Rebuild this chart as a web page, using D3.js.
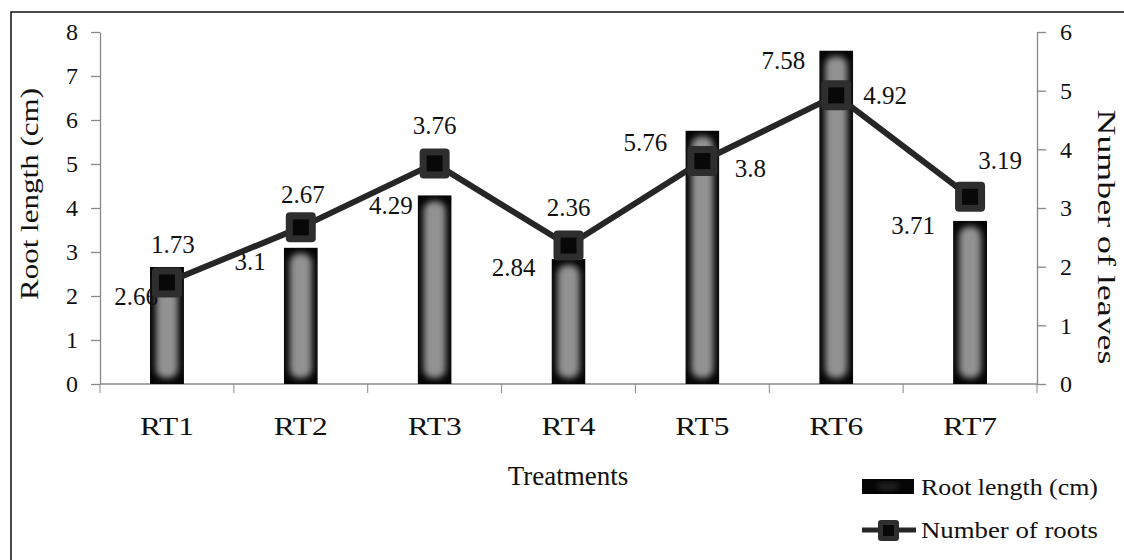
<!DOCTYPE html>
<html>
<head>
<meta charset="utf-8">
<script src="https://cdn.jsdelivr.net/npm/d3@7"></script>
<style>
  html, body { margin: 0; padding: 0; background: #fff; }
  svg { display: block; }
  text { font-family: "Liberation Serif", "Times New Roman", serif; fill: #111; }
</style>
</head>
<body>
<svg id="chart" width="1124" height="560"></svg>
<script>
// Treatments on the x axis
const categories = ["RT1", "RT2", "RT3", "RT4", "RT5", "RT6", "RT7"];
// Root length (cm), left axis, drawn as bars
const rootLength = [2.66, 3.1, 4.29, 2.84, 5.76, 7.58, 3.71];
// Number of leaves, right axis, drawn as the line
const leaves = [1.73, 2.67, 3.76, 2.36, 3.8, 4.92, 3.19];
// Axis tick values
const leftTicks = [0, 1, 2, 3, 4, 5, 6, 7, 8];
const rightTicks = [0, 1, 2, 3, 4, 5, 6];

// Hand-placed label nudges (px) so labels clear the marks
const barLabelNudge = [[8, 29], [-18, 14], [-5, 10], [-16, 8], [-18, 12], [-14, 10], [-18, 4]];
const lineLabelNudge = [[6, -38], [2, -33], [0, -38], [0, -38], [48, 7], [49, 0], [30, -37]];

const svg = d3.select("#chart");
const plot = { left: 100, right: 1037, top: 32, bottom: 384 };

const x = d3.scaleBand().domain(categories).range([plot.left, plot.right]).padding(0);
const yL = d3.scaleLinear().domain([0, 8]).range([plot.bottom, plot.top]);
const yR = d3.scaleLinear().domain([0, 6]).range([plot.bottom, plot.top]);
const barW = 34;

// outer frame
svg.append("rect").attr("x", 11).attr("y", 12).attr("width", 1140).attr("height", 580)
  .attr("fill", "none").attr("stroke", "#111").attr("stroke-width", 1.5);

const defs = svg.append("defs");
defs.append("filter").attr("id", "soft").attr("x", "-50%").attr("y", "-50%").attr("width", "200%").attr("height", "200%")
  .append("feGaussianBlur").attr("stdDeviation", 3.2);

// left axis
const axL = svg.append("g").attr("transform", `translate(${plot.left},0)`)
  .call(d3.axisLeft(yL).tickValues(leftTicks).tickFormat(d3.format("d")).tickSize(9).tickSizeOuter(0).tickPadding(13));
// right axis
const axR = svg.append("g").attr("transform", `translate(${plot.right},0)`)
  .call(d3.axisRight(yR).tickValues(rightTicks).tickFormat(d3.format("d")).tickSize(9).tickSizeOuter(0).tickPadding(14));
// bottom axis: ticks on category boundaries
const axB = svg.append("g").attr("transform", `translate(0,${plot.bottom})`)
  .call(d3.axisBottom(x).tickSize(0).tickPadding(33));
svg.append("g").selectAll("line")
  .data(d3.range(categories.length + 1))
  .join("line")
  .attr("x1", i => plot.left + i * x.step()).attr("x2", i => plot.left + i * x.step())
  .attr("y1", plot.bottom).attr("y2", plot.bottom + 9)
  .attr("stroke", "#888").attr("stroke-width", 1);

[axL, axR, axB].forEach(g => {
  g.attr("font-family", null);
  g.selectAll("path.domain").attr("stroke", "#888").attr("stroke-width", 1.3);
  g.selectAll(".tick line").attr("stroke", "#888").attr("stroke-width", 1.3);
  g.selectAll("text").style("font-family", '"Liberation Serif", serif').style("font-size", "24px").attr("fill", "#111");
});
axB.selectAll("text").style("font-size", "26px").attr("textLength", 54).attr("lengthAdjust", "spacingAndGlyphs");
axB.select("path.domain").attr("d", `M${plot.left},0H${plot.right}`);

// bars: black body with a soft grey glow inside
const bars = svg.append("g");
rootLength.forEach((v, i) => {
  const bx = x(categories[i]) + x.bandwidth() / 2 - barW / 2;
  const by = yL(v);
  const bh = yL(0) - by;
  const clipId = "clip" + i;
  defs.append("clipPath").attr("id", clipId)
    .append("rect").attr("x", bx).attr("y", by).attr("width", barW).attr("height", bh);
  const g = bars.append("g").attr("clip-path", `url(#${clipId})`);
  g.append("rect").attr("x", bx).attr("y", by).attr("width", barW).attr("height", bh).attr("fill", "#050505");
  g.append("rect").attr("x", bx + 6).attr("y", by + 6).attr("width", barW - 12).attr("height", Math.max(0, bh - 12))
    .attr("rx", 9).attr("fill", "#929292").attr("filter", "url(#soft)");
});

// bar value labels
svg.append("g").selectAll("text")
  .data(rootLength)
  .join("text")
  .attr("x", (d, i) => x(categories[i]) + x.bandwidth() / 2 - barW / 2 + barLabelNudge[i][0])
  .attr("y", (d, i) => yL(d) + barLabelNudge[i][1])
  .attr("dy", "0.35em")
  .attr("text-anchor", "end")
  .style("font-size", "25px")
  .text(d => d);

// line series
const cx = i => x(categories[i]) + x.bandwidth() / 2;
svg.append("path")
  .datum(leaves)
  .attr("d", d3.line().x((d, i) => cx(i)).y(d => yR(d)))
  .attr("fill", "none").attr("stroke", "#262626").attr("stroke-width", 6).attr("stroke-linejoin", "round");

const markers = svg.append("g").selectAll("g").data(leaves).join("g")
  .attr("transform", (d, i) => `translate(${cx(i)},${yR(d)})`);
markers.append("rect").attr("x", -15).attr("y", -15).attr("width", 30).attr("height", 30).attr("rx", 4).attr("fill", "#2e2e2e");
markers.append("rect").attr("x", -8).attr("y", -8).attr("width", 16).attr("height", 16).attr("fill", "#080808");

svg.append("g").selectAll("text")
  .data(leaves)
  .join("text")
  .attr("x", (d, i) => cx(i) + lineLabelNudge[i][0])
  .attr("y", (d, i) => yR(d) + lineLabelNudge[i][1])
  .attr("dy", "0.35em")
  .attr("text-anchor", "middle")
  .style("font-size", "25px")
  .text(d => d);

// axis titles
svg.append("text").attr("x", 568).attr("y", 476).attr("dy", "0.35em").attr("text-anchor", "middle")
  .style("font-size", "27px").text("Treatments");
svg.append("text").attr("transform", "translate(29,194) rotate(-90)").attr("dy", "0.35em").attr("text-anchor", "middle")
  .style("font-size", "26px").attr("textLength", 212).attr("lengthAdjust", "spacingAndGlyphs").text("Root length (cm)");
svg.append("text").attr("transform", "translate(1107,237) rotate(90)").attr("dy", "0.35em").attr("text-anchor", "middle")
  .style("font-size", "26px").attr("textLength", 255).attr("lengthAdjust", "spacingAndGlyphs").text("Number of leaves");

// legend
const lg = svg.append("g");
lg.append("rect").attr("x", 862).attr("y", 479).attr("width", 52).attr("height", 15).attr("fill", "#050505");
lg.append("rect").attr("x", 878).attr("y", 484).attr("width", 20).attr("height", 5).attr("rx", 2).attr("fill", "#333").attr("filter", "url(#soft)");
lg.append("text").attr("x", 921).attr("y", 487).attr("dy", "0.35em").style("font-size", "24px")
  .attr("textLength", 177).attr("lengthAdjust", "spacingAndGlyphs").text("Root length (cm)");
lg.append("line").attr("x1", 862).attr("x2", 916).attr("y1", 530).attr("y2", 530).attr("stroke", "#262626").attr("stroke-width", 5);
lg.append("rect").attr("x", 878).attr("y", 520).attr("width", 21).attr("height", 21).attr("rx", 3).attr("fill", "#2e2e2e");
lg.append("rect").attr("x", 883).attr("y", 525).attr("width", 11).attr("height", 11).attr("fill", "#080808");
lg.append("text").attr("x", 921).attr("y", 530).attr("dy", "0.35em").style("font-size", "24px")
  .attr("textLength", 177).attr("lengthAdjust", "spacingAndGlyphs").text("Number of roots");
</script>
</body>
</html>
